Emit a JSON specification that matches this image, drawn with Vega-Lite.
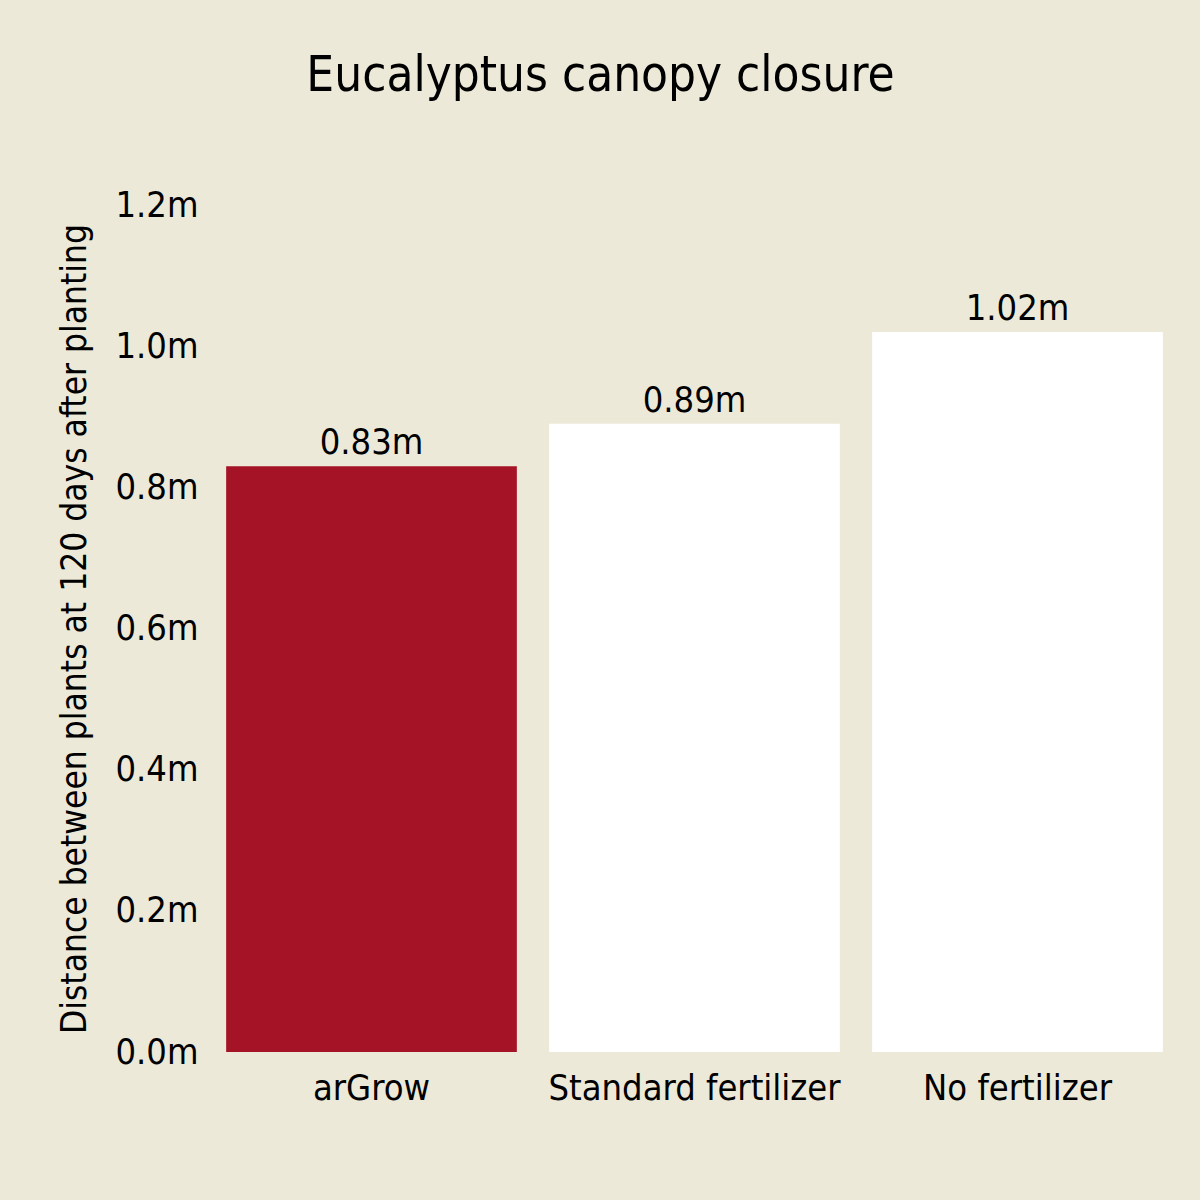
{
  "$schema": "https://vega.github.io/schema/vega-lite/v6.json",
  "width": 969,
  "height": 847,
  "autosize": {"type": "none"},
  "padding": {"left": 210, "top": 205, "right": 21, "bottom": 148},
  "background": "#ECE9D9",
  "title": {
    "text": "Eucalyptus canopy closure",
    "anchor": "middle",
    "dx": -94,
    "offset": 47,
    "baseline": "alphabetic",
    "font": "'DejaVu Sans Condensed', Roboto, sans-serif",
    "fontSize": 49,
    "fontWeight": "normal",
    "color": "#000000"
  },
  "config": {
    "view": {"stroke": null},
    "font": "'DejaVu Sans Condensed', Roboto, sans-serif"
  },
  "data": {
    "values": [
      {"Treatment": "arGrow", "Distance": 0.83, "Label": "0.83m"},
      {"Treatment": "Standard fertilizer", "Distance": 0.89, "Label": "0.89m"},
      {"Treatment": "No fertilizer", "Distance": 1.02, "Label": "1.02m"}
    ]
  },
  "encoding": {
    "x": {
      "field": "Treatment",
      "type": "nominal",
      "sort": null,
      "scale": {"paddingInner": 0.1, "paddingOuter": 0.05},
      "axis": {
        "title": null,
        "labelAngle": 0,
        "labelFontSize": 36,
        "labelColor": "#000000",
        "labelPadding": 19,
        "labelLimit": 400,
        "domain": false,
        "ticks": false,
        "labelFont": "'DejaVu Sans Condensed', Roboto, sans-serif"
      }
    },
    "y": {
      "field": "Distance",
      "type": "quantitative",
      "scale": {"domain": [0, 1.2]},
      "axis": {
        "title": "Distance between plants at 120 days after planting",
        "titleFontSize": 35,
        "titleFontWeight": "normal",
        "titleColor": "#000000",
        "titlePadding": 22,
        "titleFont": "'DejaVu Sans Condensed', Roboto, sans-serif",
        "values": [0, 0.2, 0.4, 0.6, 0.8, 1.0, 1.2],
        "labelExpr": "format(datum.value, '.1f') + 'm'",
        "labelFontSize": 36,
        "labelColor": "#000000",
        "labelPadding": 12,
        "labelFont": "'DejaVu Sans Condensed', Roboto, sans-serif",
        "domain": false,
        "ticks": false,
        "grid": false
      }
    }
  },
  "layer": [
    {
      "mark": {"type": "bar"},
      "encoding": {
        "color": {
          "field": "Treatment",
          "type": "nominal",
          "scale": {
            "domain": ["arGrow", "Standard fertilizer", "No fertilizer"],
            "range": ["#A51426", "#FFFFFF", "#FFFFFF"]
          },
          "legend": null
        }
      }
    },
    {
      "mark": {
        "type": "text",
        "baseline": "alphabetic",
        "dy": -12,
        "fontSize": 36,
        "color": "#000000",
        "font": "'DejaVu Sans Condensed', Roboto, sans-serif"
      },
      "encoding": {
        "text": {"field": "Label"}
      }
    }
  ]
}
